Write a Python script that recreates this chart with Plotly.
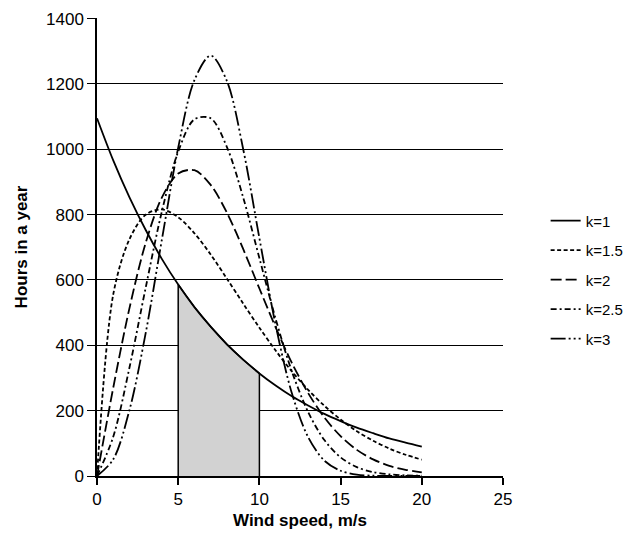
import plotly.graph_objects as go

# Wind speed (m/s) and hours in a year for each Weibull shape factor k
speed = list(range(0, 21))
k1 = [1095, 966, 853, 753, 664, 586, 517, 457, 403, 356, 314, 277, 244, 216, 190, 168, 148, 131, 115, 102, 90]
k15 = [0, 556, 725, 800, 816, 792, 743, 678, 604, 528, 454, 384, 320, 264, 215, 173, 137, 108, 84, 65, 50]
k2 = [0, 270, 514, 714, 853, 926, 936, 891, 806, 695, 574, 455, 346, 254, 179, 122, 80, 51, 31, 19, 11]
k25 = [0, 120, 332, 577, 811, 993, 1092, 1095, 1007, 853, 667, 481, 320, 196, 110, 57, 27, 12, 5, 2, 1]
k3 = [0, 51, 202, 438, 725, 1005, 1212, 1287, 1209, 1001, 728, 462, 253, 119, 47, 16, 4, 1, 0, 0, 0]

series = [
    ("k=1", k1, "solid"),
    ("k=1.5", k15, "4px,2.5px"),
    ("k=2", k2, "11px,4px"),
    ("k=2.5", k25, "6px,3px,2px,3px"),
    ("k=3", k3, "15px,3px,2px,3px,2px,3px"),
]

shade_from, shade_to = 5, 10

fig = go.Figure()

# shaded area under k=1 between 5 and 10 m/s
i0, i1 = speed.index(shade_from), speed.index(shade_to)
fig.add_trace(go.Scatter(
    x=[shade_from] + speed[i0:i1 + 1] + [shade_to],
    y=[0] + k1[i0:i1 + 1] + [0],
    fill="toself", fillcolor="#d2d2d2",
    line=dict(color="black", width=1.5),
    mode="lines", showlegend=False, hoverinfo="skip",
))

for name, vals, dash in series:
    fig.add_trace(go.Scatter(
        x=speed, y=vals, name=name, legendgroup=name,
        mode="lines",
        line=dict(color="black", width=1.8, dash=dash, shape="spline", smoothing=0.9),
    ))

# page body has an 8px margin, so the figure is sized/offset to compensate
fig.update_layout(
    width=627, height=528,
    margin=dict(l=89, r=132, t=10, b=60, autoexpand=False),
    paper_bgcolor="white", plot_bgcolor="white",
    font=dict(family="Liberation Sans, Arial, sans-serif", size=15, color="black"),
    legend=dict(
        x=1.105, xanchor="left", y=0.593, yanchor="top",
        tracegroupgap=7, font=dict(size=15),
        bgcolor="rgba(0,0,0,0)",
    ),
    showlegend=True,
)

fig.update_xaxes(
    range=[0, 25], tickvals=[0, 5, 10, 15, 20, 25],
    showgrid=False, zeroline=False, automargin=False,
    showline=True, linecolor="black", linewidth=1.5,
    ticks="outside", ticklen=7, tickwidth=1.5, tickcolor="black",
    tickfont=dict(size=17),
    title=dict(text="<b>Wind speed, m/s</b>", font=dict(size=17), standoff=6),
)
fig.update_yaxes(
    range=[0, 1402], tickvals=[0, 200, 400, 600, 800, 1000, 1200, 1400],
    showgrid=True, gridcolor="black", gridwidth=1.3, zeroline=False, automargin=False,
    showline=True, linecolor="black", linewidth=1.5,
    ticks="outside", ticklen=8, tickwidth=1.3, tickcolor="black",
    tickfont=dict(size=17),
    title=dict(text="<b>Hours in a year</b>", font=dict(size=17), standoff=14),
)

fig.write_html("out.html")
